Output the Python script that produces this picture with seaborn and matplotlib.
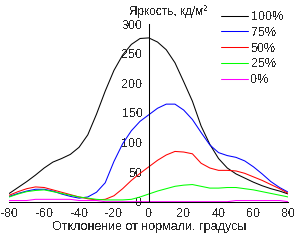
import numpy as np
import pandas as pd
import seaborn as sns
import matplotlib
matplotlib.use("Agg")
import matplotlib.pyplot as plt
from matplotlib.lines import Line2D

# angles, degrees
angles = list(range(-80, 81, 5))

lum_100 = [14, 24, 34, 45, 57, 67, 73, 80, 92, 113, 148, 187, 222, 248, 266, 276, 277,
           270, 257, 235, 203, 170, 128, 97, 73, 57, 47, 40, 33, 27, 22, 18, 13]
lum_75 = [9, 14, 18, 21, 21, 18, 13, 9, 6, 8, 16, 32, 68, 98, 120, 136, 147,
          158, 165, 165, 155, 139, 117, 96, 83, 78, 75, 69, 59, 47, 34, 24, 16]
lum_50 = [11, 17, 22, 25, 24, 20, 16, 12, 8, 5, 3, 4, 10, 22, 36, 48, 59,
          70, 79, 85, 84, 81, 65, 57, 53, 53, 52, 48, 42, 36, 29, 22, 14]
lum_25 = [8, 13, 17, 19, 20, 17, 14, 11, 8, 6, 4, 3, 3, 3, 4, 8, 13,
          18, 22, 26, 28, 29, 26, 23, 23, 24, 24, 22, 20, 17, 14, 11, 8]
lum_0 = [2, 2, 2, 4, 4, 4, 4, 4, 2, 2, 2, 0, 0, 0, 0, 0, 0,
         0, 0, 0, 0, 0, 0, 0, 0, 0, 2, 2, 2, 2, 2, 2, 0]

levels = ["100%", "75%", "50%", "25%", "0%"]
colors = ["#000000", "#0000ff", "#ff0000", "#00ff00", "#ff00ff"]

frames = []
for name, vals in zip(levels, [lum_100, lum_75, lum_50, lum_25, lum_0]):
    frames.append(pd.DataFrame({"angle": angles, "lum": vals, "level": name}))
df = pd.concat(frames, ignore_index=True)

sns.set_style("white")
plt.rcParams["font.family"] = ["Liberation Sans", "DejaVu Sans"]
plt.rcParams["axes.unicode_minus"] = False
plt.rcParams["text.antialiased"] = False

lw = 0.75

fig = plt.figure(figsize=(2.94, 2.42), dpi=100)
ax = fig.add_axes([9.3 / 294, 1 - 201.7 / 242, 279 / 294, 177.4 / 242])

sns.lineplot(data=df, x="angle", y="lum", hue="level", hue_order=levels,
             palette=colors, errorbar=None, ax=ax, legend=False)
for line in ax.lines:
    line.set_linewidth(lw)
    line.set_antialiased(True)

ax.set_xlim(-80, 80)
ax.set_ylim(0, 300)
ax.set_xticks(range(-80, 81, 20))
ax.set_yticks(range(0, 301, 50))
ax.set_xlabel("Отклонение от нормали, градусы", fontsize=9, labelpad=1)
ax.set_ylabel("")

for s in ["top", "right"]:
    ax.spines[s].set_visible(False)
ax.spines["left"].set_position(("data", 0))
for s in ["left", "bottom"]:
    ax.spines[s].set_color("black")
    ax.spines[s].set_linewidth(lw)
    ax.spines[s].set_zorder(3)
ax.tick_params(axis="both", direction="out", length=3, width=lw, color="black",
               labelsize=9, pad=1.5)
ax.patch.set_alpha(0)

fig.text(168 / 294, 1 - 12 / 242, "Яркость, кд/м²", ha="center", va="center", fontsize=8.5)

handles = [Line2D([], [], color=c, linewidth=lw) for c in colors]
ax.legend(handles, levels, loc="upper left", bbox_to_anchor=(221 / 294, 1 - 11 / 242),
          bbox_transform=fig.transFigure, frameon=False, fontsize=9,
          handlelength=2.2, handletextpad=0.2, labelspacing=0.3,
          borderpad=0, borderaxespad=0)

fig.savefig("out.png", dpi=100)
plt.close(fig)
